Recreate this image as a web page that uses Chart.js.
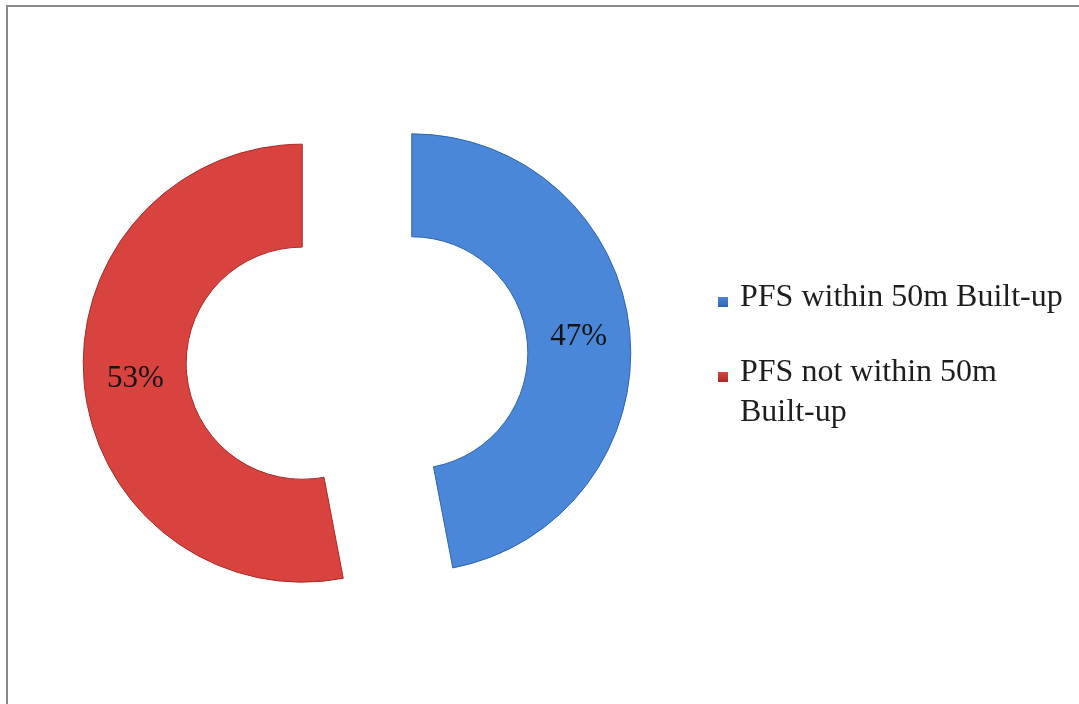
<!DOCTYPE html>
<html>
<head>
<meta charset="utf-8">
<script src="https://cdn.jsdelivr.net/npm/chart.js@4/dist/chart.umd.min.js"></script>
<style>
  html, body { margin: 0; padding: 0; background: #fff; }
  body { width: 1079px; height: 704px; position: relative; overflow: hidden; }
  #frame {
    position: absolute; left: 6px; top: 5px; right: -10px; bottom: -10px;
    border-top: 2px solid #8a8a8a; border-left: 2px solid #8a8a8a;
  }
  #wrap { position: absolute; left: 0; top: 0; width: 1079px; height: 704px; }
  #legend {
    position: absolute; left: 740px; top: 275px; width: 330px;
    font-family: "Liberation Serif", "Times New Roman", serif;
    font-size: 32px; line-height: 40px; color: #1e1e1e;
  }
  .item { position: relative; margin-bottom: 35px; }
  .box {
    position: absolute; left: -22px; top: 22px; width: 10px; height: 10px;
  }
</style>
</head>
<body>
<div id="frame"></div>
<div id="wrap"><canvas id="pfsChart" width="1079" height="704"></canvas></div>
<div id="legend"></div>

<script>
// share of petrol filling stations by distance to built-up area
const labels = ["PFS within 50m Built-up", "PFS not within 50m Built-up"];
const values = [47, 53];
const colors = ["#4a87d8", "#d8433f"];
const edgeColors = ["#2f64ad", "#a82b28"];

// how far each slice is pulled out from the centre (px)
const explodeShift = 55;

// move every arc out along its middle angle
const explode = {
  id: "explode",
  afterDatasetsUpdate(chart) {
    chart.getDatasetMeta(0).data.forEach(arc => {
      const mid = (arc.startAngle + arc.endAngle) / 2;
      arc.x += Math.cos(mid) * explodeShift;
      arc.y += Math.sin(mid) * explodeShift;
    });
  }
};

// percent text in the middle of each ring piece
const sliceLabels = {
  id: "sliceLabels",
  afterDatasetsDraw(chart) {
    const ctx = chart.ctx;
    ctx.save();
    ctx.font = '31px "Liberation Serif", "Times New Roman", serif';
    ctx.fillStyle = "#141414";
    ctx.textAlign = "center";
    ctx.textBaseline = "middle";
    chart.getDatasetMeta(0).data.forEach((arc, i) => {
      const mid = (arc.startAngle + arc.endAngle) / 2;
      const r = (arc.innerRadius + arc.outerRadius) / 2;
      ctx.fillText(values[i] + "%", arc.x + Math.cos(mid) * r, arc.y + Math.sin(mid) * r);
    });
    ctx.restore();
  }
};

new Chart(document.getElementById("pfsChart"), {
  type: "doughnut",
  data: {
    labels: labels,
    datasets: [{
      data: values,
      backgroundColor: colors,
      borderColor: edgeColors,
      borderWidth: 1
    }]
  },
  options: {
    responsive: false,
    animation: false,
    radius: 219,
    cutout: "53%",
    layout: { padding: { left: 2, right: 367, top: 12, bottom: 0 } },
    plugins: {
      legend: { display: false },
      tooltip: { enabled: false }
    }
  },
  plugins: [explode, sliceLabels]
});

// legend on the right
const legend = document.getElementById("legend");
labels.forEach((name, i) => {
  const item = document.createElement("div");
  item.className = "item";
  const box = document.createElement("span");
  box.className = "box";
  box.style.background = "linear-gradient(" + colors[i] + ", " + edgeColors[i] + ")";
  item.appendChild(box);
  item.appendChild(document.createTextNode(name));
  legend.appendChild(item);
});
</script>
</body>
</html>
